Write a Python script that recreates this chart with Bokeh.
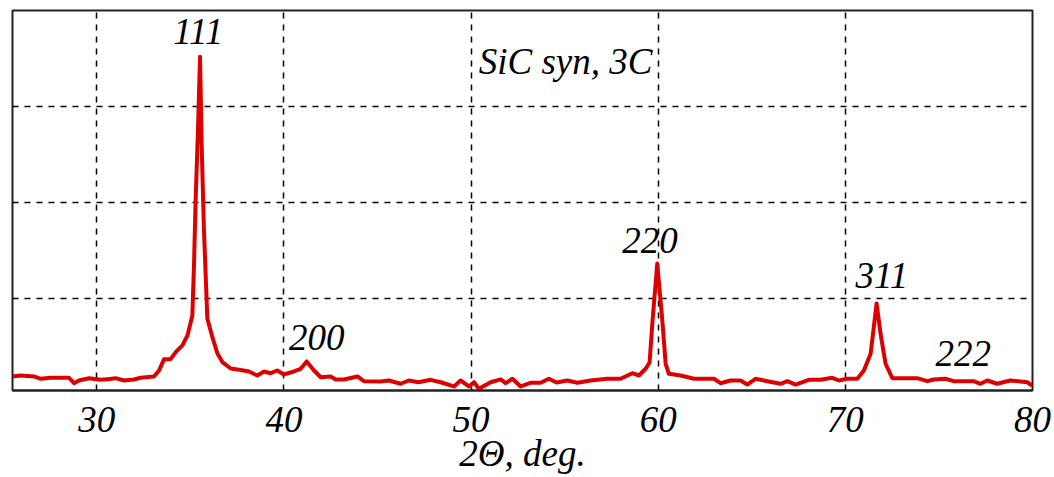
from bokeh.plotting import figure
from bokeh.models import FixedTicker, Grid, ColumnDataSource, Range1d
from bokeh.core.properties import value
from bokeh.embed import file_html
from bokeh.resources import INLINE

# XRD pattern of synthetic SiC (3C) – 2Theta in degrees, intensity in arbitrary units
two_theta = [25.51, 25.94, 26.65, 27.01, 27.54, 28.52, 28.79, 29.05, 29.59, 30.21,
             30.57, 31.01, 31.46, 31.99, 32.35, 33.06, 33.33, 33.60, 33.95, 34.22,
             34.58, 34.85, 35.11, 35.20, 35.29, 35.41, 35.52, 35.61, 35.73, 35.91,
             36.18, 36.45, 36.73, 37.16, 37.69, 38.14, 38.58, 38.94, 39.29, 39.65,
             40.01, 40.54, 40.90, 41.22, 41.61, 41.97, 42.50, 42.77, 43.21, 43.93,
             44.28, 45.17, 45.61, 46.24, 46.67, 47.20, 47.84, 48.38, 49.09, 49.44,
             49.89, 50.16, 50.42, 51.05, 51.58, 51.85, 52.21, 52.65, 53.18, 53.72,
             54.16, 54.57, 55.14, 55.68, 56.39, 57.28, 57.99, 58.62, 58.97, 59.33,
             59.54, 59.70, 59.95, 60.22, 60.40, 60.57, 61.20, 61.91, 62.98, 63.33,
             63.87, 64.40, 64.76, 65.20, 65.83, 66.54, 66.90, 67.34, 68.05, 68.68,
             69.30, 69.66, 70.10, 70.64, 70.99, 71.35, 71.52, 71.67, 71.88, 72.15,
             72.51, 73.84, 74.38, 74.72, 75.35, 75.78, 76.86, 77.22, 77.58, 78.11,
             78.82, 79.36, 79.72, 79.98]
intensity = [193, 203, 193, 169, 179, 179, 123, 151, 175, 158,
             165, 175, 151, 162, 179, 193, 255, 373, 373, 446,
             516, 620, 828, 1367, 2061, 2756, 3520, 2582, 1714, 797,
             602, 432, 339, 276, 260, 245, 203, 245, 227, 255,
             214, 245, 273, 349, 255, 185, 193, 162, 162, 193,
             144, 141, 151, 117, 151, 133, 158, 133, 89, 151,
             89, 133, 65, 133, 162, 123, 169, 89, 127, 127,
             169, 130, 151, 127, 151, 169, 169, 227, 203, 273,
             339, 776, 1367, 776, 325, 221, 203, 169, 169, 123,
             151, 151, 109, 169, 144, 117, 144, 109, 158, 158,
             179, 151, 169, 169, 255, 429, 706, 953, 638, 325,
             175, 175, 144, 162, 169, 144, 144, 117, 151, 117,
             151, 141, 133, 99]

# Peak (hkl) labels and the sample title
peak_labels = ["200", "220", "311", "222"]
peak_label_x = [40.27, 58.08, 70.54, 74.82]
peak_label_y = [594, 1608, 1243, 427]
top_peak_label = "111"
top_peak_x = 35.42
top_peak_y = 3783
title_text = "SiC syn, 3C"
title_x = 50.41
title_y = 3473

x_ticks = [30, 40, 50, 60, 70, 80]
x_grid_ticks = [30, 40, 50, 60, 70]
y_grid_ticks = [1000, 2000, 3000]
x_label = "2\u0398, deg."

FONT = "Liberation Serif"
FS = "37px"

p = figure(width=1054, height=477, output_backend="svg", toolbar_location=None,
           x_range=Range1d(25.5, 80), y_range=Range1d(47, 4000),
           y_axis_location=None,
           frame_width=1020, frame_height=380,
           min_border_left=12, min_border_right=22, min_border_top=10, min_border_bottom=0)

p.background_fill_color = "white"
p.border_fill_color = "white"
p.outline_line_color = "#222222"
p.outline_line_width = 2
p.outline_line_alpha = 1

for g in p.grid:
    g.visible = False
p.add_layout(Grid(dimension=0, ticker=FixedTicker(ticks=x_grid_ticks),
                  grid_line_color="black", grid_line_dash="6 6", grid_line_width=1.5))
p.add_layout(Grid(dimension=1, ticker=FixedTicker(ticks=y_grid_ticks),
                  grid_line_color="black", grid_line_dash="6 6", grid_line_width=1.5))

ax = p.xaxis[0]
ax.ticker = FixedTicker(ticks=x_ticks)
ax.axis_line_color = "#222222"
ax.axis_line_width = 2
ax.major_tick_in = 0
ax.major_tick_out = 0
ax.minor_tick_line_color = None
ax.major_label_standoff = 16
ax.major_label_text_font = FONT
ax.major_label_text_font_style = "italic"
ax.major_label_text_font_size = FS
ax.major_label_text_color = "black"
ax.axis_label = x_label
ax.axis_label_text_font = FONT
ax.axis_label_text_font_style = "italic"
ax.axis_label_text_font_size = FS
ax.axis_label_text_color = "black"
ax.axis_label_standoff = -2

src = ColumnDataSource(dict(x=two_theta, y=intensity))
p.line("x", "y", source=src, line_color="#dd0000", line_width=4, line_join="round")

lab_src = ColumnDataSource(dict(x=peak_label_x, y=peak_label_y, t=peak_labels))
p.text("x", "y", text="t", source=lab_src, text_font=value(FONT), text_font_style="italic",
       text_font_size=FS, text_color="black", text_align="left", text_baseline="alphabetic")
p.text(x=[top_peak_x], y=[top_peak_y], text=[top_peak_label], text_font=value(FONT),
       text_font_style="italic", text_font_size=FS, text_color="black",
       text_align="center", text_baseline="alphabetic")
p.text(x=[title_x], y=[title_y], text=[title_text], text_font=value(FONT),
       text_font_style="italic", text_font_size=FS, text_color="black",
       text_align="left", text_baseline="alphabetic")

open("out.html", "w").write(file_html(p, INLINE))
